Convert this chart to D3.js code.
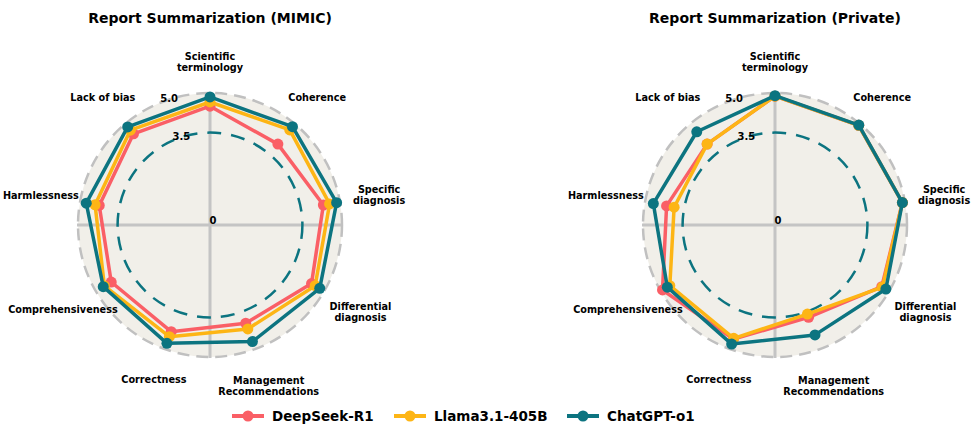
<!DOCTYPE html>
<html>
<head>
<meta charset="utf-8">
<script src="https://cdn.jsdelivr.net/npm/d3@7"></script>
<style>
  body { margin: 0; background: #fff; }
  text { font-family: "DejaVu Sans", sans-serif; font-weight: bold; }
</style>
</head>
<body>
<div class="viz"></div>
<script>
// axes go clockwise from the top
var axes = [["Scientific", "terminology"], ["Coherence"], ["Specific", "diagnosis"],
  ["Differential", "diagnosis"], ["Management", "Recommendations"], ["Correctness"],
  ["Comprehensiveness"], ["Harmlessness"], ["Lack of bias"]];
var models = ["DeepSeek-R1", "Llama3.1-405B", "ChatGPT-o1"];
var colors = ["#fa5f66", "#fdb515", "#0c7480"];
var titles = ["Report Summarization (MIMIC)", "Report Summarization (Private)"];
var rTicks = [0, 3.5, 5.0];

var mimicDeepSeek = [4.50, 4.00, 4.36, 4.44, 3.96, 4.30, 4.32, 4.26, 4.51];
var mimicLlama    = [4.66, 4.70, 4.60, 4.60, 4.19, 4.50, 4.62, 4.42, 4.69];
var mimicChatGPT  = [4.85, 4.86, 4.87, 4.80, 4.70, 4.77, 4.67, 4.76, 4.85];

var privDeepSeek = [4.88, 4.93, 4.90, 4.67, 3.72, 4.60, 4.92, 4.17, 4.00];
var privLlama    = [4.88, 4.93, 4.90, 4.70, 3.59, 4.57, 4.60, 3.88, 4.00];
var privChatGPT  = [4.90, 4.94, 4.90, 4.85, 4.43, 4.80, 4.71, 4.68, 4.61];

var panels = [[mimicDeepSeek, mimicLlama, mimicChatGPT], [privDeepSeek, privLlama, privChatGPT]];

var width = 973, height = 440;
var radius = 132;
var centers = [[210, 225], [775, 225]];

var svg = d3.select('.viz').append('svg')
  .attr('width', width)
  .attr('height', height);

var r = d3.scaleLinear().domain([0, 5]).range([0, radius]);
var angle = d3.scaleLinear().domain([0, axes.length]).range([0, 2 * Math.PI]);

var line = d3.lineRadial()
  .angle((d, i) => angle(i))
  .radius(d => r(d))
  .curve(d3.curveLinearClosed);

panels.forEach(function (series, p) {
  var g = svg.append('g')
    .attr('transform', 'translate(' + centers[p][0] + ',' + centers[p][1] + ')');

  svg.append('text')
    .attr('x', centers[p][0]).attr('y', 23)
    .attr('text-anchor', 'middle')
    .attr('font-size', 14)
    .text(titles[p]);

  g.append('circle').attr('r', r(5)).attr('fill', '#f1efe9');

  // cross lines
  [0, 90].forEach(function (a) {
    var t = a * Math.PI / 180;
    g.append('line')
      .attr('x1', -Math.sin(t) * (radius + 1)).attr('y1', -Math.cos(t) * (radius + 1))
      .attr('x2', Math.sin(t) * (radius + 1)).attr('y2', Math.cos(t) * (radius + 1))
      .attr('stroke', '#c4c4c4').attr('stroke-width', 3);
  });

  g.append('circle').attr('r', r(5)).attr('fill', 'none')
    .attr('stroke', '#c0c0c0').attr('stroke-width', 2.5)
    .attr('stroke-dasharray', '12,7');

  g.append('circle').attr('r', r(3.5)).attr('fill', 'none')
    .attr('stroke', '#0c7480').attr('stroke-width', 2.5)
    .attr('stroke-dasharray', '14,10');

  // radial tick labels
  rTicks.forEach(function (v) {
    var a = -18 * Math.PI / 180;
    var x = v === 0 ? 3 : Math.sin(a) * r(v);
    var y = v === 0 ? -4 : -Math.cos(a) * r(v);
    g.append('text')
      .attr('x', x).attr('y', y)
      .attr('text-anchor', 'middle')
      .attr('dominant-baseline', 'middle')
      .attr('font-size', 10)
      .text(v === 0 ? '0' : v.toFixed(1));
  });

  series.forEach(function (vals, s) {
    g.append('path')
      .datum(vals)
      .attr('d', line)
      .attr('fill', 'none')
      .attr('stroke', colors[s])
      .attr('stroke-width', 3.5)
      .attr('stroke-linejoin', 'round');
    g.selectAll('.pt' + s)
      .data(vals)
      .enter().append('circle')
      .attr('cx', (d, i) => Math.sin(angle(i)) * r(d))
      .attr('cy', (d, i) => -Math.cos(angle(i)) * r(d))
      .attr('r', 5.5)
      .attr('fill', colors[s]);
  });

  axes.forEach(function (lab, i) {
    var t = angle(i);
    // side labels sit a bit further out, two-line labels below push down
    var lr = 163 + 9 * Math.pow(Math.sin(t), 2);
    if (Math.cos(t) < 0) lr += (lab.length - 1) * 8 * -Math.cos(t);
    var x = Math.sin(t) * lr, y = -Math.cos(t) * lr;
    var txt = g.append('text')
      .attr('text-anchor', 'middle')
      .attr('font-size', 9.7);
    lab.forEach(function (l, k) {
      txt.append('tspan')
        .attr('x', x)
        .attr('y', y + (k - (lab.length - 1) / 2) * 11 + 3.5)
        .text(l);
    });
  });
});

// legend
var legend = svg.append('g').attr('transform', 'translate(232,416)');
var legX = [0, 162, 335];
models.forEach(function (m, i) {
  var lg = legend.append('g').attr('transform', 'translate(' + legX[i] + ',0)');
  lg.append('line').attr('x1', 0).attr('x2', 32)
    .attr('stroke', colors[i]).attr('stroke-width', 4);
  lg.append('circle').attr('cx', 16).attr('r', 5.5).attr('fill', colors[i]);
  lg.append('text').attr('x', 40).attr('y', 5)
    .attr('font-size', 13.5)
    .text(m);
});
</script>
</body>
</html>
